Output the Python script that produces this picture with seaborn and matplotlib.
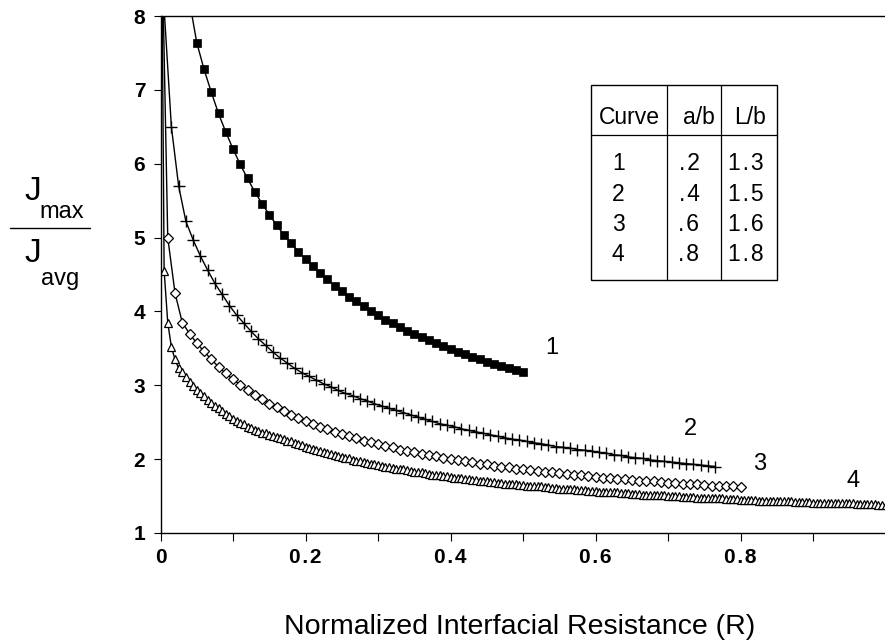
import numpy as np
import pandas as pd
import matplotlib
matplotlib.use("Agg")
import matplotlib.pyplot as plt
import seaborn as sns
from matplotlib.lines import Line2D
from matplotlib.patches import Rectangle

# ---------------- data ----------------
# Curve 1 (filled squares), a/b=.2, L/b=1.3
r1 = np.round(np.concatenate([[0.04], np.arange(0.05, 0.5001, 0.01)]), 3)
j1 = [8.20, 7.64, 7.28, 6.97, 6.68, 6.43, 6.20, 5.99, 5.80, 5.62,
      5.46, 5.31, 5.17, 5.04, 4.93, 4.81, 4.71, 4.61, 4.52, 4.44,
      4.35, 4.28, 4.20, 4.14, 4.07, 4.01, 3.95, 3.89, 3.84, 3.79,
      3.74, 3.69, 3.65, 3.61, 3.57, 3.53, 3.49, 3.45, 3.42, 3.38,
      3.35, 3.32, 3.29, 3.26, 3.23, 3.21, 3.18]

# Curve 2 (plus signs), a/b=.4, L/b=1.5
r2 = np.round(np.arange(0.005, 0.7651, 0.01), 3)
j2 = [8.10, 6.50, 5.70, 5.22, 4.97, 4.75, 4.56, 4.38, 4.23, 4.08,
      3.95, 3.84, 3.73, 3.63, 3.54, 3.45, 3.37, 3.30, 3.23, 3.17,
      3.12, 3.07, 3.02, 2.98, 2.93, 2.89, 2.86, 2.82, 2.79, 2.75,
      2.72, 2.69, 2.66, 2.63, 2.60, 2.57, 2.54, 2.51, 2.48, 2.46,
      2.44, 2.41, 2.39, 2.37, 2.35, 2.33, 2.31, 2.29, 2.27, 2.26,
      2.24, 2.22, 2.21, 2.19, 2.17, 2.16, 2.15, 2.13, 2.12, 2.11,
      2.09, 2.08, 2.06, 2.05, 2.03, 2.02, 2.01, 1.99, 1.98, 1.97,
      1.96, 1.95, 1.94, 1.93, 1.92, 1.91, 1.90]

# Curve 3 (open diamonds), a/b=.6, L/b=1.6
r3 = np.round(np.concatenate([[0.002], np.arange(0.01, 0.8001, 0.01)]), 3)
j3 = [9.00,
      5.00, 4.25, 3.85, 3.70, 3.57, 3.46, 3.35, 3.25, 3.16, 3.08,
      3.01, 2.94, 2.87, 2.81, 2.75, 2.70, 2.65, 2.60, 2.56, 2.52,
      2.48, 2.44, 2.41, 2.37, 2.34, 2.31, 2.28, 2.25, 2.23, 2.20,
      2.18, 2.16, 2.13, 2.11, 2.09, 2.07, 2.05, 2.04, 2.02, 2.00,
      1.99, 1.97, 1.96, 1.94, 1.93, 1.91, 1.90, 1.89, 1.87, 1.86,
      1.85, 1.84, 1.83, 1.82, 1.81, 1.80, 1.79, 1.78, 1.77, 1.76,
      1.75, 1.74, 1.73, 1.73, 1.72, 1.71, 1.70, 1.70, 1.69, 1.68,
      1.68, 1.67, 1.66, 1.66, 1.65, 1.64, 1.64, 1.63, 1.63, 1.62]

# Curve 4 (open triangles), a/b=.8, L/b=1.8
r4 = np.round(np.concatenate([[0.002], np.arange(0.005, 1.0001, 0.005)]), 3)
j4 = [8.60,
      4.55, 3.85, 3.52, 3.35, 3.23, 3.18, 3.11, 3.04, 2.99, 2.94,
      2.89, 2.85, 2.80, 2.76, 2.72, 2.69, 2.65, 2.61, 2.58, 2.55,
      2.52, 2.49, 2.47, 2.44, 2.42, 2.40, 2.38, 2.36, 2.35, 2.33,
      2.31, 2.30, 2.28, 2.27, 2.25, 2.24, 2.22, 2.20, 2.19, 2.17,
      2.15, 2.14, 2.12, 2.11, 2.10, 2.08, 2.07, 2.06, 2.04, 2.03,
      2.02, 2.01, 1.99, 1.98, 1.97, 1.96, 1.95, 1.94, 1.93, 1.92,
      1.91, 1.90, 1.89, 1.88, 1.87, 1.86, 1.86, 1.85, 1.84, 1.83,
      1.82, 1.82, 1.81, 1.80, 1.79, 1.79, 1.78, 1.77, 1.77, 1.76,
      1.75, 1.75, 1.74, 1.73, 1.73, 1.72, 1.72, 1.71, 1.70, 1.70,
      1.69, 1.69, 1.68, 1.68, 1.67, 1.67, 1.66, 1.66, 1.65, 1.65,
      1.64, 1.64, 1.63, 1.63, 1.63, 1.62, 1.62, 1.61, 1.61, 1.60,
      1.60, 1.60, 1.59, 1.59, 1.58, 1.58, 1.58, 1.57, 1.57, 1.57,
      1.56, 1.56, 1.56, 1.55, 1.55, 1.55, 1.54, 1.54, 1.54, 1.53,
      1.53, 1.53, 1.52, 1.52, 1.52, 1.51, 1.51, 1.51, 1.51, 1.50,
      1.50, 1.50, 1.50, 1.49, 1.49, 1.49, 1.49, 1.48, 1.48, 1.48,
      1.48, 1.47, 1.47, 1.47, 1.47, 1.46, 1.46, 1.46, 1.46, 1.45,
      1.45, 1.45, 1.45, 1.45, 1.44, 1.44, 1.44, 1.44, 1.44, 1.43,
      1.43, 1.43, 1.43, 1.43, 1.42, 1.42, 1.42, 1.42, 1.42, 1.41,
      1.41, 1.41, 1.41, 1.41, 1.41, 1.40, 1.40, 1.40, 1.40, 1.40,
      1.40, 1.39, 1.39, 1.39, 1.39, 1.39, 1.39, 1.38, 1.38, 1.38]

curve_ids = ["1", "2", "3", "4"]
table_header = ["Curve", "a/b", "L/b"]
table_ab = [".2", ".4", ".6", ".8"]
table_lb = ["1.3", "1.5", "1.6", "1.8"]
x_ticks = [0, 0.1, 0.2, 0.3, 0.4, 0.5, 0.6, 0.7, 0.8, 0.9]
x_ticklabels = ["0", "", "0.2", "", "0.4", "", "0.6", "", "0.8", ""]
y_ticks = [1, 2, 3, 4, 5, 6, 7, 8]

assert len(r1) == len(j1) and len(r2) == len(j2)
assert len(r3) == len(j3) and len(r4) == len(j4)

df = pd.concat([
    pd.DataFrame({"R": r1, "J": j1, "curve": "1"}),
    pd.DataFrame({"R": r2, "J": j2, "curve": "2"}),
    pd.DataFrame({"R": r3, "J": j3, "curve": "3"}),
    pd.DataFrame({"R": r4, "J": j4, "curve": "4"}),
], ignore_index=True)

# ---------------- styling ----------------
sns.set_theme(style="white")
plt.rcParams['font.family'] = ['Liberation Sans', 'DejaVu Sans']
plt.rcParams['text.color'] = 'black'

W, H = 885, 642
fx = lambda px: px / W
fy = lambda py: 1 - py / H
HS = "\u200a"  # hair space for the spaced-out numerals

fig = plt.figure(figsize=(W / 100, H / 100), dpi=100)
ax = fig.add_axes([fx(160.5), fy(533), 725 / W, 517 / H])

styles = {
    "4": dict(marker='^', markersize=6.0, markerfacecolor='white',
              markeredgecolor='black', markeredgewidth=0.9),
    "3": dict(marker='D', markersize=5.0, markerfacecolor='white',
              markeredgecolor='black', markeredgewidth=0.9),
    "2": dict(marker='+', markersize=8.0, markerfacecolor='black',
              markeredgecolor='black', markeredgewidth=1.0),
    "1": dict(marker='s', markersize=6.0, markerfacecolor='black',
              markeredgecolor='black', markeredgewidth=0.5),
}
for cid in ["4", "3", "2", "1"]:
    sub = df[df["curve"] == cid]
    sns.lineplot(data=sub, x="R", y="J", ax=ax, color="black", linewidth=1.0,
                 estimator=None, sort=False, legend=False, **styles[cid])

ax.set_xlim(0, 1.0)
ax.set_ylim(1, 8)
ax.set_xlabel("")
ax.set_ylabel("")

ax.set_xticks(x_ticks)
ax.set_xticklabels([s.replace(".", HS + "." + HS) for s in x_ticklabels])
ax.set_yticks(y_ticks)
ax.set_yticklabels([str(v) for v in y_ticks])
ax.tick_params(axis='x', bottom=True, direction='out', length=6, width=0.8,
               pad=5, labelsize=15, colors='black')
ax.tick_params(axis='y', left=True, direction='out', length=5, width=0.8,
               pad=6, labelsize=15, colors='black')
for lab in ax.get_xticklabels() + ax.get_yticklabels():
    lab.set_fontweight('bold')

for side in ["left", "bottom", "top"]:
    ax.spines[side].set_color("black")
    ax.spines[side].set_linewidth(1.0)
ax.spines["right"].set_visible(False)

# curve labels
label_pos = [(551.7, 354), (690, 435), (760, 470), (852.7, 487)]
for cid, (px, py) in zip(curve_ids, label_pos):
    fig.text(fx(px), fy(py), cid, ha='center', va='baseline', fontsize=17)

# table
x0, x1, y0, y1 = 590.7, 776.7, 85, 280
fig.add_artist(Rectangle((fx(x0), fy(y1)), (x1 - x0) / W, (y1 - y0) / H,
                         transform=fig.transFigure, fill=False,
                         edgecolor='black', linewidth=1.0))
fig.add_artist(Line2D([fx(x0), fx(x1)], [fy(135), fy(135)],
                      transform=fig.transFigure, color='black', linewidth=0.9))
for vx in (666.7, 720.7):
    fig.add_artist(Line2D([fx(vx), fx(vx)], [fy(y0), fy(y1)],
                          transform=fig.transFigure, color='black', linewidth=0.9))
for s, cx in zip(table_header, (629.5, 699, 750.5)):
    fig.text(fx(cx), fy(124), s, ha='center', va='baseline', fontsize=16.5)
row_base = [170, 201, 231, 261]
for cid, ab, lb, by in zip(curve_ids, table_ab, table_lb, row_base):
    fig.text(fx(618.3), fy(by), cid, ha='center', va='baseline', fontsize=16.5)
    fig.text(fx(689), fy(by), ab.replace(".", "." + HS), ha='center', va='baseline', fontsize=16.5)
    fig.text(fx(746), fy(by), lb.replace(".", HS + "." + HS), ha='center', va='baseline', fontsize=16.5)

# y label  J_max / J_avg
fig.text(fx(32.5), fy(200), "J", ha='center', va='baseline', fontsize=24)
fig.text(fx(61.5), fy(218), "max", ha='center', va='baseline', fontsize=17)
fig.add_artist(Line2D([fx(10), fx(90)], [fy(228), fy(228)],
                      transform=fig.transFigure, color='black', linewidth=1.0))
fig.text(fx(32.5), fy(262), "J", ha='center', va='baseline', fontsize=24)
fig.text(fx(60), fy(285), "avg", ha='center', va='baseline', fontsize=17)

# x label
fig.text(fx(520), fy(634), "Normalized Interfacial Resistance (R)",
         ha='center', va='baseline', fontsize=20.5)

fig.savefig("out.png", dpi=100)
